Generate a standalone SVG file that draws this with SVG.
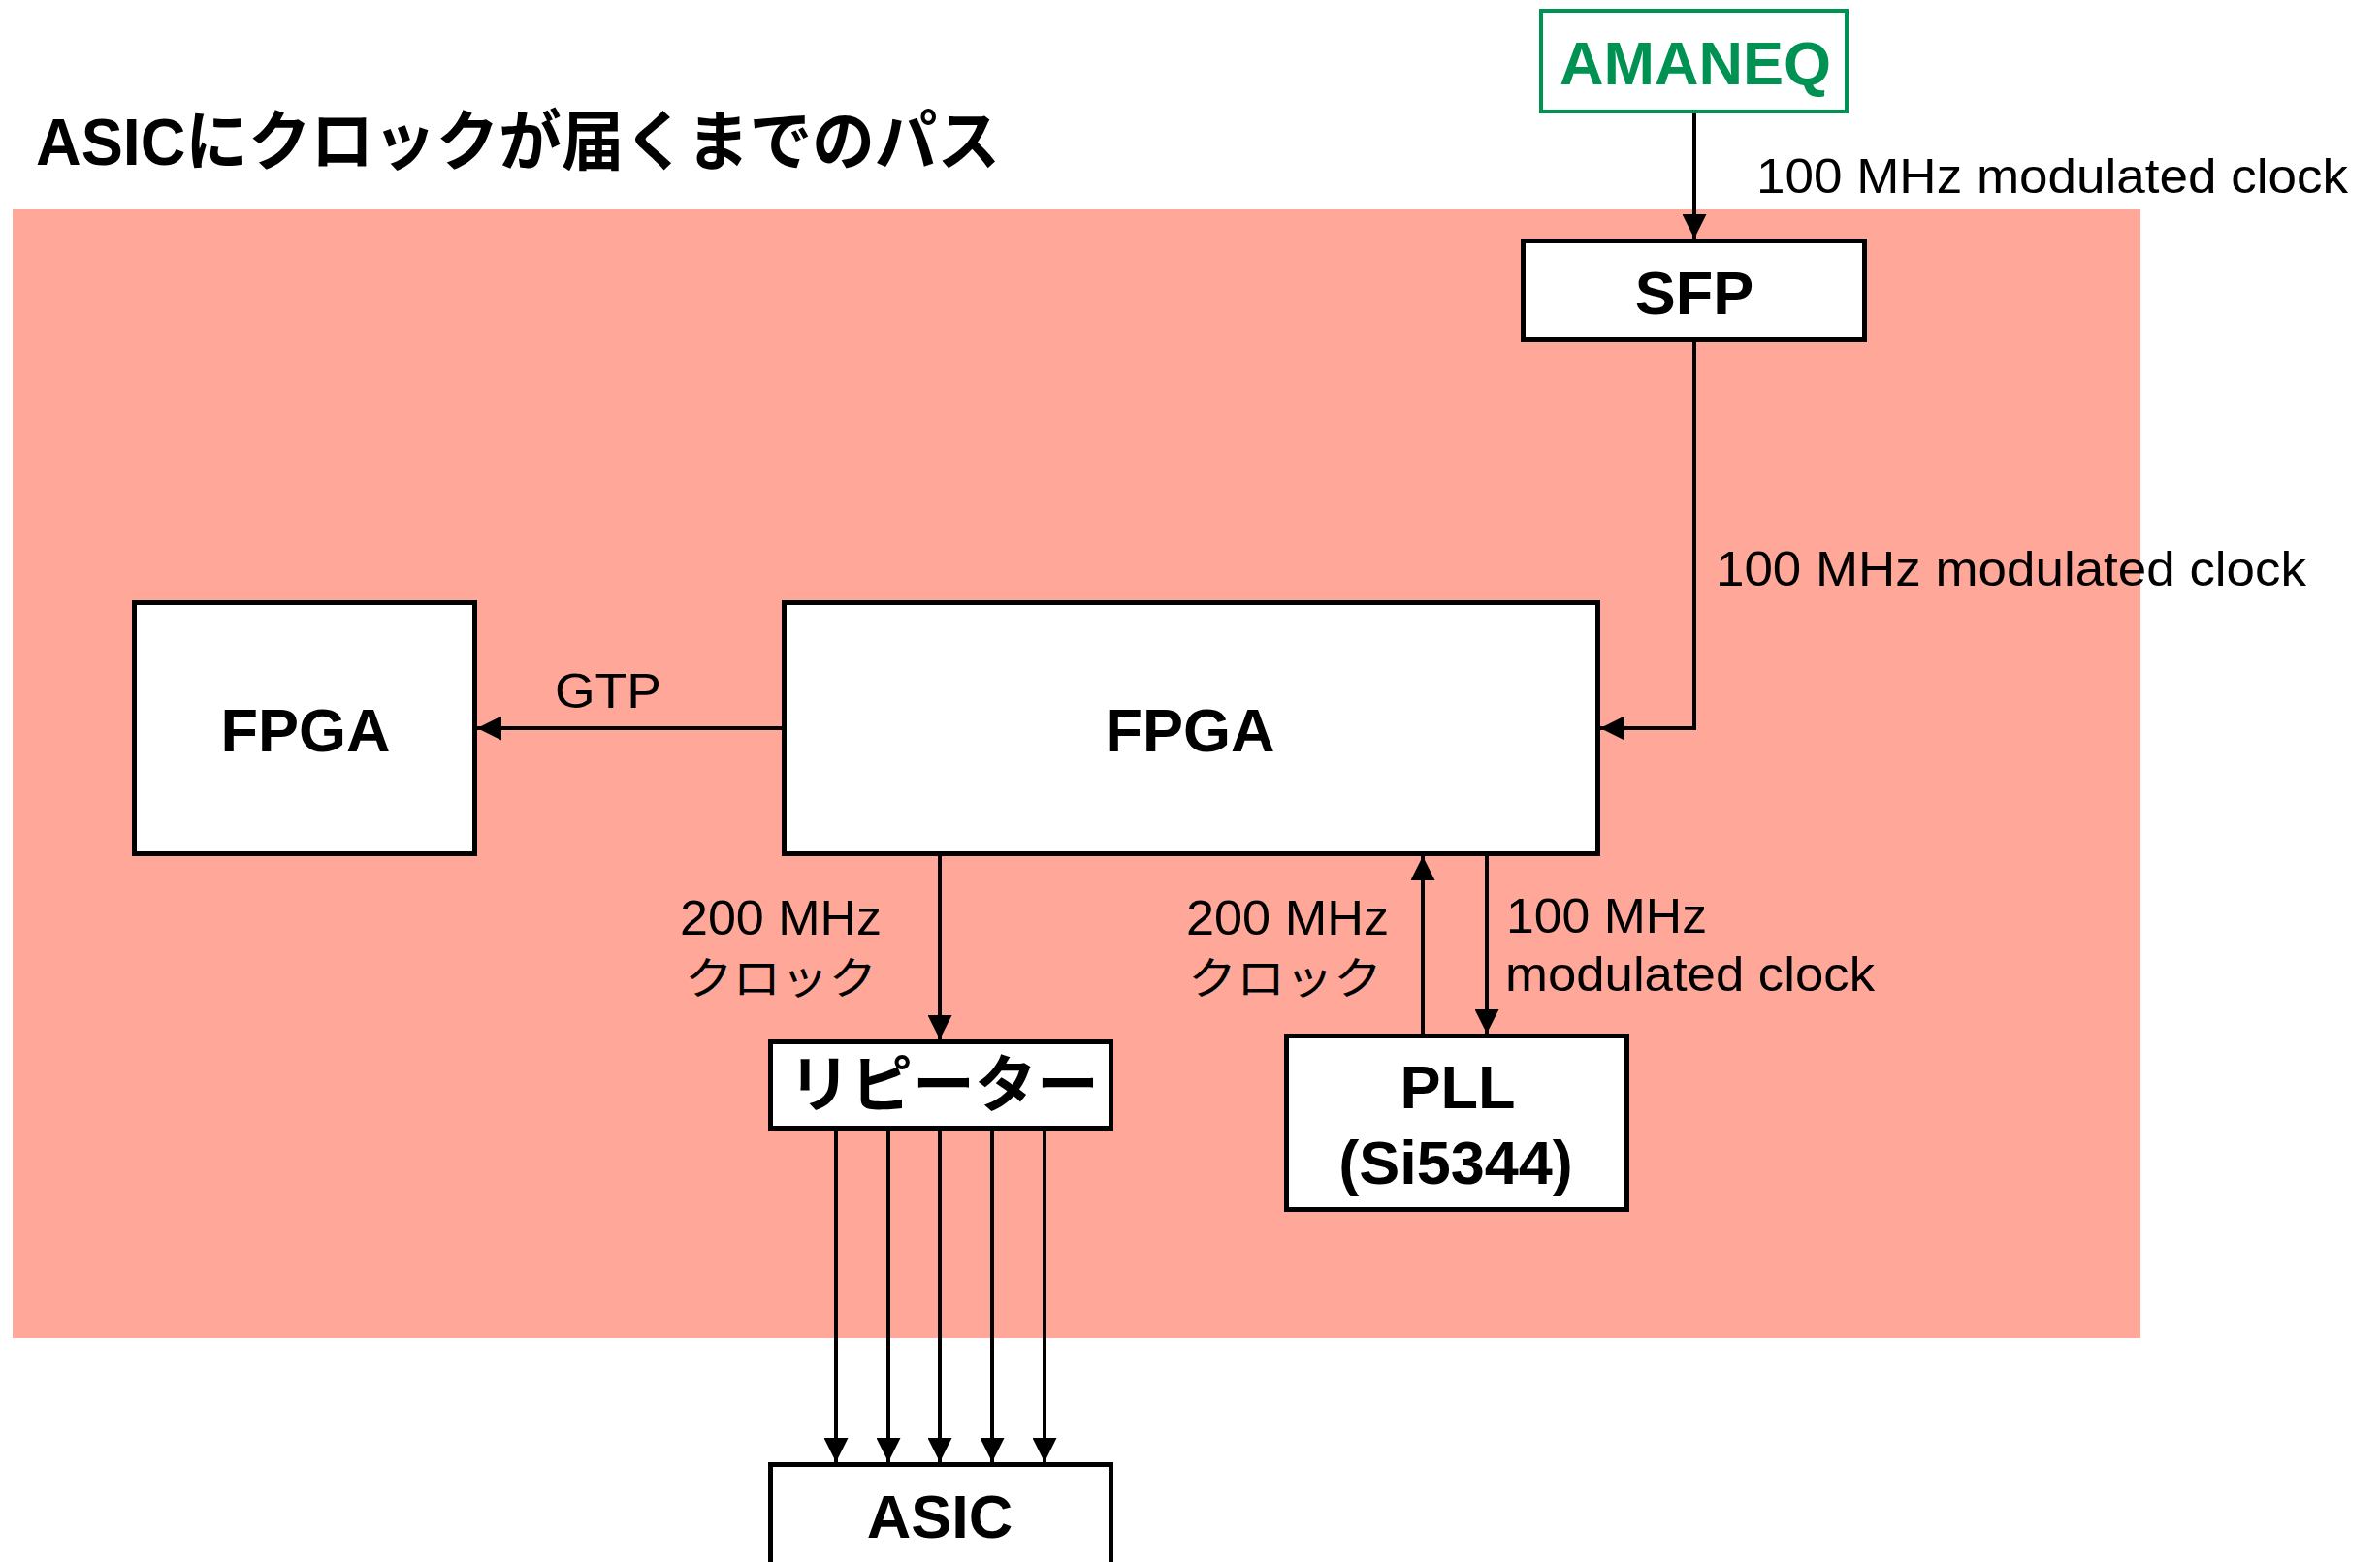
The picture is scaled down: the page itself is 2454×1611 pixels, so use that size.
<svg xmlns="http://www.w3.org/2000/svg" width="2454" height="1611" viewBox="0 0 2454 1611">
<style>
.box{fill:#fff;stroke:#000;stroke-width:5}
.bl{font-family:"Liberation Sans","Noto Sans CJK JP",sans-serif;font-weight:bold;font-size:63px;text-anchor:middle;fill:#000}
.lb{font-family:"Liberation Sans","Noto Sans CJK JP",sans-serif;font-size:50px;fill:#000}
.jp{font-family:"Noto Sans CJK JP",sans-serif;font-size:46px;fill:#000}
.ln{fill:none;stroke:#000;stroke-width:4;marker-end:url(#ah)}
</style>
<defs>
<marker id="ah" markerUnits="userSpaceOnUse" markerWidth="25" markerHeight="25" refX="25" refY="12.5" orient="auto" viewBox="0 0 25 25">
<path d="M0,0 L25,12.5 L0,25 z" fill="#000"/>
</marker>
</defs>
<rect x="0" y="0" width="2454" height="1611" fill="#fff"/>
<rect id="board" x="13" y="216" width="2194" height="1164" fill="#FFA89A"/>
<text id="title" x="37" y="170" font-family="'Liberation Sans','Noto Sans CJK JP',sans-serif" font-weight="bold" font-size="68" textLength="994" lengthAdjust="spacingAndGlyphs">ASICにクロックが届くまでのパス</text>

<g id="connectors">
<line class="ln" x1="1747" y1="117" x2="1747" y2="246"/>
<polyline class="ln" points="1747,353 1747,751 1650,751"/>
<line class="ln" x1="806" y1="751" x2="492" y2="751"/>
<line class="ln" x1="969" y1="883" x2="969" y2="1072"/>
<line class="ln" x1="1467" y1="1066" x2="1467" y2="883"/>
<line class="ln" x1="1533" y1="883" x2="1533" y2="1066"/>
<line class="ln" x1="862" y1="1166" x2="862" y2="1508"/>
<line class="ln" x1="916" y1="1166" x2="916" y2="1508"/>
<line class="ln" x1="969" y1="1166" x2="969" y2="1508"/>
<line class="ln" x1="1023" y1="1166" x2="1023" y2="1508"/>
<line class="ln" x1="1077" y1="1166" x2="1077" y2="1508"/>
<text class="lb" x="1811" y="199" font-size="52" textLength="610" lengthAdjust="spacingAndGlyphs">100 MHz modulated clock</text>
<text class="lb" x="1769" y="604" font-size="52" textLength="609" lengthAdjust="spacingAndGlyphs">100 MHz modulated clock</text>
<text class="lb" x="572" y="730" font-size="53" textLength="110" lengthAdjust="spacingAndGlyphs">GTP</text>
<text class="lb" x="701" y="964" font-size="47" textLength="208" lengthAdjust="spacingAndGlyphs">200 MHz</text>
<text class="jp" x="706" y="1025" textLength="198" lengthAdjust="spacingAndGlyphs">クロック</text>
<text class="lb" x="1223" y="964" font-size="47" textLength="209" lengthAdjust="spacingAndGlyphs">200 MHz</text>
<text class="jp" x="1225" y="1025" textLength="200" lengthAdjust="spacingAndGlyphs">クロック</text>
<text class="lb" x="1553" y="962" font-size="48" textLength="207" lengthAdjust="spacingAndGlyphs">100 MHz</text>
<text class="lb" x="1552" y="1022" font-size="48" textLength="381" lengthAdjust="spacingAndGlyphs">modulated clock</text>
</g>

<g id="amaneq">
<rect x="1589" y="11" width="315" height="104" fill="#fff" stroke="#009252" stroke-width="4"/>
<text class="bl" x="1748" y="87" style="fill:#009252" font-size="64">AMANEQ</text>
</g>
<g id="sfp">
<rect class="box" x="1570.5" y="248.5" width="352" height="102"/>
<text class="bl" x="1747" y="324">SFP</text>
</g>
<g id="fpga-main">
<rect class="box" x="808.5" y="621.5" width="839" height="259"/>
<text class="bl" x="1227" y="775">FPGA</text>
</g>
<g id="fpga-left">
<rect class="box" x="138.5" y="621.5" width="351" height="259"/>
<text class="bl" x="315" y="775">FPGA</text>
</g>
<g id="repeater">
<rect class="box" x="794.5" y="1074.5" width="351" height="89"/>
<text x="973" y="1141" font-family="'Noto Sans CJK JP',sans-serif" font-weight="bold" font-size="64" text-anchor="middle">リピーター</text>
</g>
<g id="pll">
<rect class="box" x="1326.5" y="1068.5" width="351" height="179"/>
<text class="bl" x="1503" y="1143">PLL</text>
<text class="bl" x="1501" y="1221">(Si5344)</text>
</g>
<g id="asic">
<rect class="box" x="794.5" y="1510.5" width="351" height="130"/>
<text class="bl" x="969" y="1586">ASIC</text>
</g>
</svg>
